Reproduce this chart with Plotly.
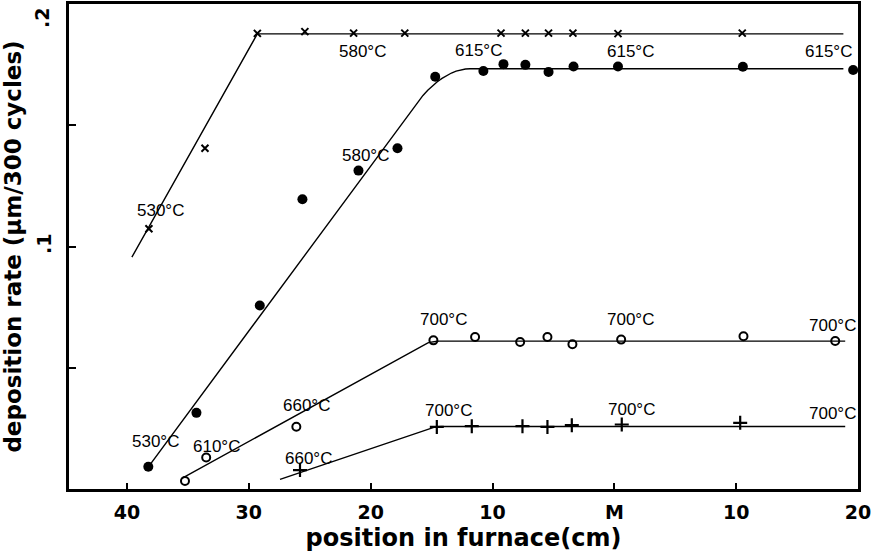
import numpy as np
import plotly.graph_objects as go

# ---- data (x: position in furnace, cm; left side negative, M = 0) ----
cross_x = [-38.2, -33.6, -29.3, -25.4, -21.4, -17.2, -9.3, -7.3, -5.4, -3.4, 0.3, 10.5]
cross_y = [0.1073, 0.1405, 0.1879, 0.1886, 0.1880, 0.1880, 0.1880, 0.1880, 0.1880, 0.1880, 0.1878, 0.1880]

dot_x = [-38.25, -34.3, -29.1, -25.6, -21.0, -17.8, -14.7, -10.75, -9.1, -7.3, -5.4, -3.35, 0.3, 10.55, 19.6]
dot_y = [0.0092, 0.0314, 0.0757, 0.1195, 0.1313, 0.1405, 0.1700, 0.1724, 0.1752, 0.1749, 0.1720, 0.1742, 0.1742, 0.1741, 0.1728]

circle_x = [-35.24, -33.5, -26.1, -14.85, -11.43, -7.73, -5.49, -3.44, 0.56, 10.6, 18.13]
circle_y = [0.0033, 0.0130, 0.0257, 0.0613, 0.0627, 0.0606, 0.0627, 0.0597, 0.0616, 0.0630, 0.0610]

plus_x = [-25.8, -14.57, -11.7, -7.54, -5.49, -3.49, 0.61, 10.33]
plus_y = [0.0078, 0.0256, 0.0259, 0.0259, 0.0256, 0.0263, 0.0266, 0.0273]

# fitted lines: start, corner-in, corner, corner-out, end
cross_fit_x = [-39.6, -29.3, 18.8]
cross_fit_y = [0.0956, 0.1877, 0.1877]
dot_fit_x = [-38.44, -16.1, -13.93, -11.84, 18.8]
dot_fit_y = [0.0078, 0.1600, 0.1733, 0.1733, 0.1733]
circle_fit_x = [-35.5, -15.8, -15.18, -14.2, 18.95]
circle_fit_y = [0.0044, 0.0592, 0.0610, 0.0610, 0.0610]
plus_fit_x = [-27.44, -15.5, -14.9, -14.2, 18.95]
plus_fit_y = [0.0040, 0.0245, 0.0258, 0.0258, 0.0258]

x_tickvals = [-40, -30, -20, -10, 0, 10, 20]
x_ticktext = ["40", "30", "20", "10", "M", "10", "20"]

labels = [
    ("530°C", -37.29, 0.1148), ("580°C", -20.7, 0.1806), ("615°C", -11.18, 0.1810),
    ("615°C", 1.3, 0.1806), ("615°C", 17.55, 0.1806), ("580°C", -20.46, 0.1377),
    ("530°C", -37.7, 0.0194), ("610°C", -32.69, 0.0177), ("660°C", -25.3, 0.0346),
    ("660°C", -25.14, 0.0124), ("700°C", -14.06, 0.0697), ("700°C", 1.3, 0.0697),
    ("700°C", 17.88, 0.0676), ("700°C", -13.65, 0.0322), ("700°C", 1.38, 0.0326),
    ("700°C", 17.88, 0.0313),
]


def rounded(xs, ys, n=12):
    """polyline with a quadratic-Bezier rounded corner (points 1..3 are control points)."""
    if len(xs) < 5:
        return xs, ys
    t = np.linspace(0, 1, n)
    bx = (1 - t) ** 2 * xs[1] + 2 * (1 - t) * t * xs[2] + t ** 2 * xs[3]
    by = (1 - t) ** 2 * ys[1] + 2 * (1 - t) * t * ys[2] + t ** 2 * ys[3]
    return [xs[0], *bx, xs[4]], [ys[0], *by, ys[4]]


fig = go.Figure()
for fx, fy in [(cross_fit_x, cross_fit_y), (dot_fit_x, dot_fit_y),
               (circle_fit_x, circle_fit_y), (plus_fit_x, plus_fit_y)]:
    lx, ly = rounded(fx, fy)
    fig.add_trace(go.Scatter(x=lx, y=ly, mode="lines",
                             line=dict(color="black", width=1.4), hoverinfo="skip"))

fig.add_trace(go.Scatter(x=cross_x, y=cross_y, mode="markers",
                         marker=dict(symbol="x-thin-open", size=7, color="black",
                                     line=dict(width=2, color="black"))))
fig.add_trace(go.Scatter(x=dot_x, y=dot_y, mode="markers",
                         marker=dict(symbol="circle", size=10, color="black")))
fig.add_trace(go.Scatter(x=circle_x, y=circle_y, mode="markers",
                         marker=dict(symbol="circle-open", size=8, color="black",
                                     line=dict(width=2, color="black"))))
fig.add_trace(go.Scatter(x=plus_x, y=plus_y, mode="markers",
                         marker=dict(symbol="cross-thin-open", size=10, color="black",
                                     line=dict(width=2.2, color="black"))))

for txt, lx, ly in labels:
    fig.add_annotation(x=lx, y=ly, text=txt, showarrow=False,
                       font=dict(family="Liberation Sans", size=17, color="black"))

fig.add_annotation(x=0, xref="paper", y=0.2, yref="y", text=".2", showarrow=False,
                   textangle=-90, xanchor="center", yanchor="top", xshift=-27, yshift=-2,
                   font=dict(family="DejaVu Sans", size=19, color="black", weight="bold"))

fig.update_xaxes(range=[-44.76, 20], tickvals=x_tickvals, ticktext=x_ticktext,
                 ticks="inside", ticklen=6, tickwidth=1.5, tickcolor="black",
                 showline=True, linewidth=2.5, linecolor="black", mirror=True,
                 showgrid=False, zeroline=False, automargin=False, ticklabelstandoff=4,
                 tickfont=dict(family="DejaVu Sans", size=19, color="black", weight="bold"),
                 title=dict(text="position in furnace(cm)", standoff=10,
                            font=dict(family="DejaVu Sans", size=24, color="black", weight="bold")))
fig.update_yaxes(range=[0, 0.2], tickvals=[0.05, 0.1, 0.15], ticktext=["", ".1", ""],
                 ticks="inside", ticklen=7, tickwidth=1.5, tickcolor="black", tickangle=-90,
                 showline=True, linewidth=2.5, linecolor="black", mirror=True,
                 showgrid=False, zeroline=False, automargin=False, ticklabelstandoff=8,
                 tickfont=dict(family="DejaVu Sans", size=19, color="black", weight="bold"),
                 title=dict(text="deposition rate (μm/300 cycles)", standoff=6,
                            font=dict(family="DejaVu Sans", size=23, color="black", weight="bold")))

fig.update_layout(width=872, height=552, margin=dict(l=69, r=14, t=4, b=63),
                  paper_bgcolor="white", plot_bgcolor="white", showlegend=False)

fig.write_html("out.html", config={"displayModeBar": False},
               post_script="document.body.style.margin='0';")
